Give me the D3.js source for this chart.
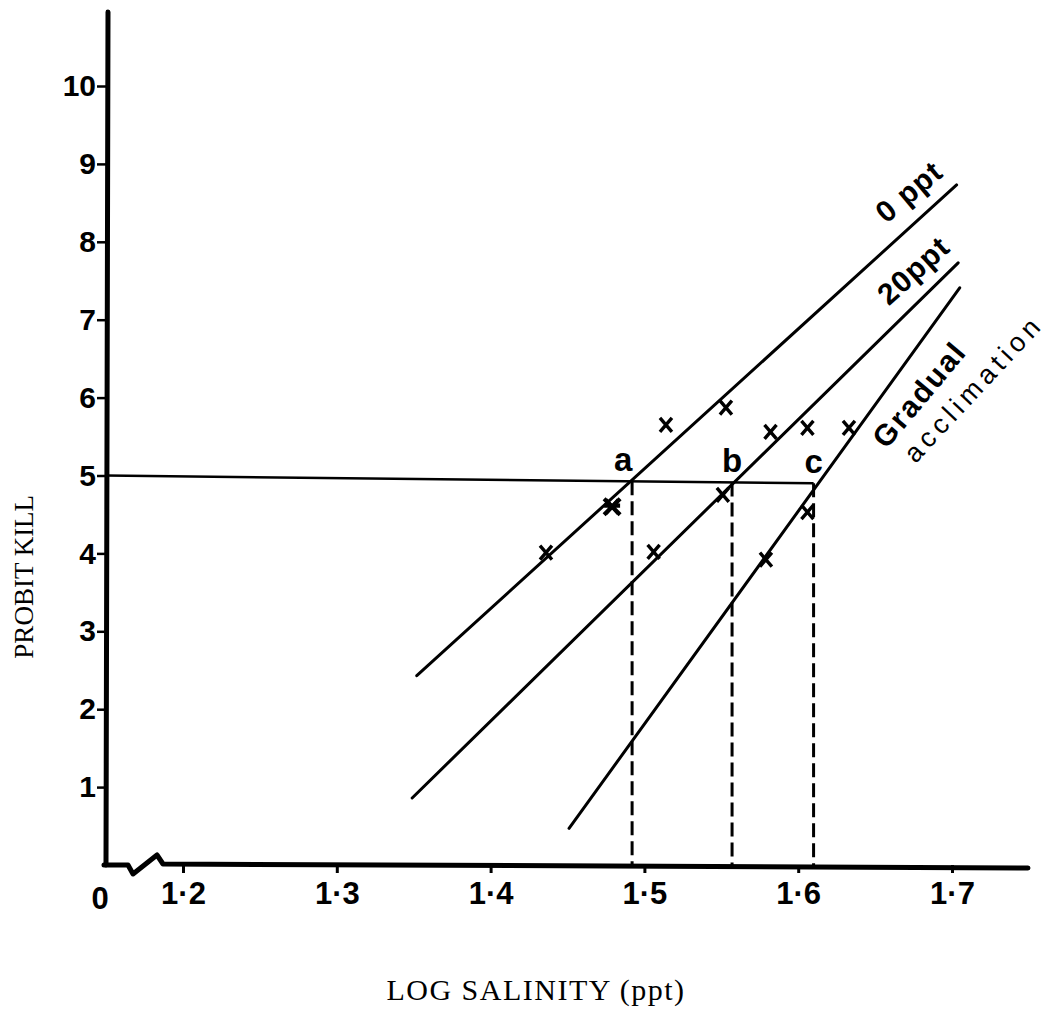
<!DOCTYPE html>
<html>
<head>
<meta charset="utf-8">
<script src="https://cdn.jsdelivr.net/npm/d3@7"></script>
<style>
  html, body { margin: 0; padding: 0; background: #fff; }
  svg { display: block; }
</style>
</head>
<body>
<svg id="chart" width="1057" height="1010"></svg>
<script>
// ---------------- data ----------------
const xTickValues = [1.2, 1.3, 1.4, 1.5, 1.6, 1.7];
const xTickLabels = ["1·2", "1·3", "1·4", "1·5", "1·6", "1·7"];
const yTickValues = [1, 2, 3, 4, 5, 6, 7, 8, 9, 10];
const yTickLabels = ["1", "2", "3", "4", "5", "6", "7", "8", "9", "10"];

const lineNames   = ["0 ppt", "20 ppt", "Gradual acclimation"];
const lineStartX  = [1.352, 1.349, 1.451];
const lineStartY  = [2.43, 0.86, 0.47];
const lineEndX    = [1.703, 1.704, 1.705];
const lineEndY    = [8.73, 7.73, 7.41];

const pts0ppt     = [[1.436, 4.01], [1.479, 4.60], [1.514, 5.65], [1.553, 5.87]];
const pts20ppt    = [[1.506, 4.02], [1.551, 4.75], [1.582, 5.56]];
const ptsGradual  = [[1.579, 3.92], [1.606, 4.53], [1.606, 5.61], [1.633, 5.61]];
const heavyPoint  = [1.479, 4.60];

const lc50Letters = ["a", "b", "c"];
const lc50X       = [1.492, 1.557, 1.610];
const probitRefStart = 5.0;
const probitRefEnd   = 4.90;

// label anchors (data units) for the line names
const lineLabelText = ["0 ppt", "20ppt", "Gradual", "acclimation"];
const lineLabelX    = [1.673, 1.676, 1.680, 1.715];
const lineLabelY    = [8.62, 7.61, 6.02, 6.10];
const lineLabelRot  = [-40, -42, -50, -47];

// ---------------- drawing ----------------
const svg = d3.select("#chart");
const x = d3.scaleLinear().domain([1.2, 1.7]).range([183, 952]);
const y = d3.scaleLinear().domain([0, 10]).range([865, 86]);
const x0 = 106;           // origin (value 0, before the axis break)
const xEnd = 1028;
const yTop = y(10.95);

const numFont = "'Liberation Sans', Arial, sans-serif";
const serif = "'Liberation Serif', 'Times New Roman', serif";

// y axis ticks & labels
const yAxis = d3.axisLeft(y).tickValues(yTickValues)
  .tickFormat((d, i) => yTickLabels[i]).tickSize(9).tickPadding(1);
const gy = svg.append("g").attr("transform", `translate(${x0},0)`).call(yAxis);
gy.select(".domain").remove();
gy.selectAll(".tick line").attr("stroke", "#000").attr("stroke-width", 2.5);
gy.selectAll(".tick text").attr("font-family", numFont).attr("font-weight", "bold")
  .attr("font-size", 30).attr("fill", "#000");

// x axis ticks & labels
const xAxis = d3.axisBottom(x).tickValues(xTickValues)
  .tickFormat((d, i) => xTickLabels[i]).tickSize(8).tickPadding(9);
const gx = svg.append("g").attr("transform", `translate(0,${y(0)})`).call(xAxis);
gx.select(".domain").remove();
gx.selectAll(".tick line").attr("stroke", "#000").attr("stroke-width", 3);
gx.selectAll(".tick text").attr("font-family", numFont).attr("font-weight", "bold")
  .attr("font-size", 31).attr("fill", "#000");

// "0" at origin
svg.append("text").attr("x", x0 - 6).attr("y", y(0) + 44)
  .attr("text-anchor", "middle").attr("font-family", numFont).attr("font-weight", "bold")
  .attr("font-size", 31).text("0");

// axis lines
svg.append("line").attr("x1", x0 + 2).attr("y1", yTop).attr("x2", x0).attr("y2", y(0))
  .attr("stroke", "#000").attr("stroke-width", 5).attr("stroke-linecap", "round");

const y0 = y(0);
const brk = d3.path();
brk.moveTo(x0 - 2, y0);
brk.lineTo(x0 + 22, y0);
brk.lineTo(x0 + 27, y0 + 9);
brk.lineTo(x0 + 51, y0 - 10);
brk.lineTo(x0 + 57, y0 - 1);
brk.lineTo(xEnd, y0 + 3);
svg.append("path").attr("d", brk.toString()).attr("fill", "none")
  .attr("stroke", "#000").attr("stroke-width", 5)
  .attr("stroke-linejoin", "round").attr("stroke-linecap", "round");

// reference probit-5 line
svg.append("line")
  .attr("x1", x0).attr("y1", y(probitRefStart))
  .attr("x2", x(lc50X[2])).attr("y2", y(probitRefEnd))
  .attr("stroke", "#000").attr("stroke-width", 2.5);

// dashed LC50 drops
const refY = v => y(probitRefStart + (probitRefEnd - probitRefStart) * (x(v) - x0) / (x(lc50X[2]) - x0));
svg.selectAll(".drop").data(lc50X).enter().append("line")
  .attr("x1", d => x(d)).attr("x2", d => x(d))
  .attr("y1", d => refY(d)).attr("y2", y(0))
  .attr("stroke", "#000").attr("stroke-width", 3).attr("stroke-dasharray", "14,6");

// fitted lines
lineNames.forEach((n, i) => {
  svg.append("line")
    .attr("x1", x(lineStartX[i])).attr("y1", y(lineStartY[i]))
    .attr("x2", x(lineEndX[i])).attr("y2", y(lineEndY[i]))
    .attr("stroke", "#000").attr("stroke-width", 3).attr("stroke-linecap", "round");
});

// points
const cross = "M-6,-7L6,7M-6,7L6,-7";
[pts0ppt, pts20ppt, ptsGradual].forEach(arr => {
  svg.selectAll(null).data(arr).enter().append("path")
    .attr("d", cross)
    .attr("transform", d => `translate(${x(d[0])},${y(d[1])})`)
    .attr("fill", "none").attr("stroke", "#000").attr("stroke-width", 3.4);
});
svg.append("path").attr("d", "M-8,-8L8,8M-8,8L8,-8M-8,-1L8,-1")
  .attr("transform", `translate(${x(heavyPoint[0])},${y(heavyPoint[1])})`)
  .attr("fill", "none").attr("stroke", "#000").attr("stroke-width", 4.2);

// a, b, c letters
svg.selectAll(".lc").data(lc50X).enter().append("text")
  .attr("x", (d, i) => x(d) - (i === 0 ? 9 : 0))
  .attr("y", d => refY(d) - 10)
  .attr("text-anchor", "middle").attr("font-family", numFont).attr("font-weight", "bold")
  .attr("font-size", 33).text((d, i) => lc50Letters[i]);

// line name labels
const labelSize = [30, 30, 30, 27];
const labelSpacing = [1, 1, 2, 5];
lineLabelText.forEach((t, i) => {
  svg.append("text")
    .attr("transform", `translate(${x(lineLabelX[i])},${y(lineLabelY[i])}) rotate(${lineLabelRot[i]})`)
    .attr("text-anchor", "middle").attr("dominant-baseline", "middle")
    .attr("font-family", numFont).attr("font-weight", i === 3 ? "normal" : "bold")
    .attr("letter-spacing", labelSpacing[i])
    .attr("font-size", labelSize[i]).text(t);
});

// axis titles
svg.append("text")
  .attr("transform", `translate(33,${y(3.7)}) rotate(-90)`)
  .attr("text-anchor", "middle").attr("font-family", serif).attr("font-size", 27)
  .text("PROBIT KILL");
svg.append("text")
  .attr("x", 536).attr("y", 1000)
  .attr("text-anchor", "middle").attr("font-family", serif).attr("font-size", 30)
  .attr("letter-spacing", 1.5)
  .text("LOG SALINITY (ppt)");
</script>
</body>
</html>
